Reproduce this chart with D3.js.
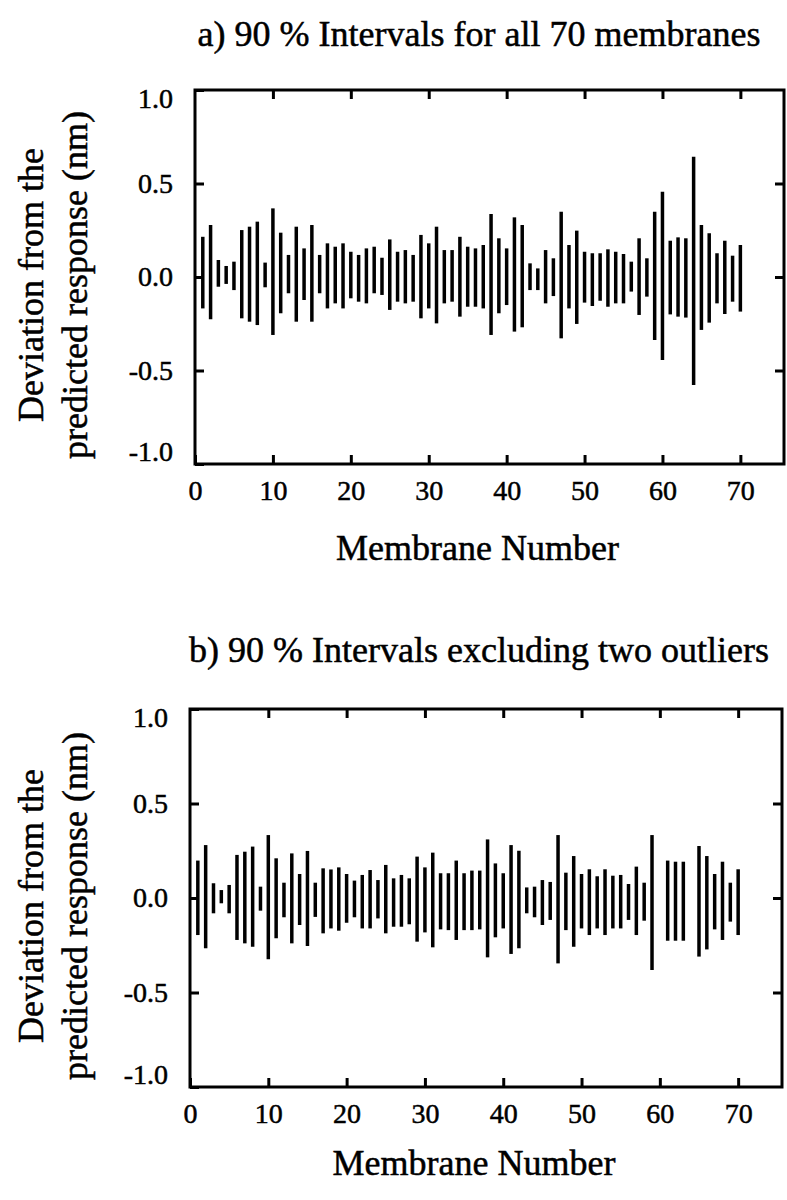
<!DOCTYPE html>
<html>
<head>
<meta charset="utf-8">
<script src="https://cdn.jsdelivr.net/npm/d3@7"></script>
<style>
  html, body { margin: 0; padding: 0; background: #fff; }
  svg { display: block; }
  text { font-family: "Liberation Serif", "Times New Roman", serif; fill: #000; stroke: #000; stroke-width: 0.5px; }
</style>
</head>
<body>
<svg id="chart" width="787" height="1200"></svg>
<script>
// Membrane numbers 1..70
const membranes = d3.range(1, 71);

// Panel a: 90 % interval limits for all 70 membranes (nm)
const upperA = [
  0.215, 0.278, 0.091, 0.059, 0.082, 0.251, 0.269, 0.296, 0.077, 0.367,
  0.237, 0.118, 0.269, 0.153, 0.278, 0.118, 0.180, 0.162, 0.180, 0.135,
  0.118, 0.153, 0.162, 0.103, 0.201, 0.135, 0.144, 0.118, 0.225, 0.180,
  0.269, 0.144, 0.144, 0.215, 0.162, 0.153, 0.171, 0.337, 0.207, 0.153,
  0.319, 0.278, 0.073, 0.046, 0.144, 0.100, 0.349, 0.171, 0.248, 0.135,
  0.127, 0.127, 0.148, 0.135, 0.123, 0.082, 0.207, 0.100, 0.349, 0.456,
  0.194, 0.212, 0.207, 0.643, 0.278, 0.234, 0.127, 0.194, 0.114, 0.171
];
const lowerA = [
  -0.168, -0.226, -0.052, -0.037, -0.070, -0.221, -0.239, -0.257, -0.055, -0.310,
  -0.194, -0.087, -0.239, -0.123, -0.239, -0.087, -0.168, -0.141, -0.168, -0.114,
  -0.132, -0.141, -0.087, -0.096, -0.176, -0.132, -0.141, -0.132, -0.221, -0.168,
  -0.248, -0.141, -0.132, -0.212, -0.159, -0.159, -0.168, -0.310, -0.194, -0.150,
  -0.292, -0.269, -0.070, -0.070, -0.141, -0.102, -0.328, -0.168, -0.251, -0.137,
  -0.155, -0.127, -0.159, -0.141, -0.141, -0.078, -0.203, -0.105, -0.337, -0.444,
  -0.200, -0.212, -0.217, -0.578, -0.283, -0.244, -0.141, -0.198, -0.132, -0.185
];

// Panel b: intervals refitted without membranes 60 and 64 (null = excluded)
const upperB = [
  0.198, 0.280, 0.078, 0.042, 0.069, 0.228, 0.245, 0.272, 0.060, 0.333,
  0.210, 0.081, 0.236, 0.127, 0.249, 0.081, 0.157, 0.151, 0.162, 0.127,
  0.092, 0.122, 0.148, 0.095, 0.175, 0.104, 0.122, 0.104, 0.219, 0.162,
  0.240, 0.131, 0.131, 0.198, 0.131, 0.145, 0.145, 0.310, 0.183, 0.131,
  0.280, 0.250, 0.056, 0.060, 0.095, 0.085, 0.333, 0.134, 0.222, 0.127,
  0.152, 0.115, 0.152, 0.118, 0.122, 0.074, 0.166, 0.081, 0.333, null,
  0.198, 0.192, 0.192, null, 0.275, 0.222, 0.127, 0.192, 0.081, 0.152
];
const lowerB = [
  -0.196, -0.266, -0.081, -0.028, -0.081, -0.222, -0.240, -0.258, -0.067, -0.324,
  -0.213, -0.102, -0.240, -0.143, -0.254, -0.100, -0.187, -0.161, -0.173, -0.131,
  -0.102, -0.161, -0.161, -0.108, -0.187, -0.152, -0.152, -0.139, -0.231, -0.182,
  -0.261, -0.166, -0.170, -0.222, -0.170, -0.170, -0.166, -0.314, -0.208, -0.161,
  -0.296, -0.266, -0.081, -0.102, -0.143, -0.116, -0.346, -0.170, -0.258, -0.161,
  -0.196, -0.161, -0.196, -0.161, -0.161, -0.116, -0.196, -0.120, -0.381, null,
  -0.226, -0.226, -0.226, null, -0.310, -0.272, -0.166, -0.222, -0.125, -0.196
];

// Axis ticks and labels
const xTicks = [0, 10, 20, 30, 40, 50, 60, 70];
const yTicks = [-1.0, -0.5, 0.0, 0.5, 1.0];
const xMax = 75.6;
const titles = [
  "a) 90 % Intervals for all 70 membranes",
  "b) 90 % Intervals excluding two outliers"
];
const yLabelLines = ["Deviation from the", "predicted response (nm)"];
const xLabel = "Membrane Number";

const svg = d3.select("#chart");

function drawPanel(opt) {
  const { left, right, top, bottom, upper, lower, title, titleY, xLabelGap } = opt;

  const x = d3.scaleLinear().domain([0, xMax]).range([left, right]);
  const y = d3.scaleLinear().domain([-1, 1]).range([bottom, top]);

  const g = svg.append("g");

  // title
  g.append("text")
    .attr("x", 479).attr("y", titleY)
    .attr("text-anchor", "middle")
    .style("font-size", "36px")
    .text(title);

  // interval bars
  const rows = membranes
    .map((m, i) => ({ m, hi: upper[i], lo: lower[i] }))
    .filter(d => d.hi != null && d.lo != null);

  g.append("g").selectAll("line")
    .data(rows)
    .join("line")
    .attr("x1", d => x(d.m)).attr("x2", d => x(d.m))
    .attr("y1", d => y(d.lo)).attr("y2", d => y(d.hi))
    .attr("stroke", "#000")
    .attr("stroke-width", 3.5);

  const tickLen = -9;
  const styleAxis = sel => {
    sel.select(".domain").remove();
    sel.selectAll(".tick line").attr("stroke", "#000").attr("stroke-width", 3);
    sel.selectAll(".tick text").style("font-size", "28px");
  };

  // bottom axis with labels
  g.append("g")
    .attr("transform", `translate(0,${bottom})`)
    .call(d3.axisBottom(x).tickValues(xTicks).tickSizeInner(tickLen).tickSizeOuter(0)
      .tickPadding(16).tickFormat(d3.format("d")))
    .call(styleAxis);

  // top axis, ticks only
  g.append("g")
    .attr("transform", `translate(0,${top})`)
    .call(d3.axisTop(x).tickValues(xTicks.slice(1)).tickSizeInner(tickLen).tickSizeOuter(0)
      .tickFormat(""))
    .call(styleAxis);

  // left axis with labels
  const leftAxis = g.append("g")
    .attr("transform", `translate(${left},0)`)
    .call(d3.axisLeft(y).tickValues(yTicks).tickSizeInner(tickLen).tickSizeOuter(0)
      .tickPadding(22).tickFormat(d => d.toFixed(1)))
    .call(styleAxis);
  // keep the end labels inside the frame height
  leftAxis.selectAll(".tick text")
    .attr("dy", d => d === 1 ? "0.62em" : d === -1 ? "-0.12em" : "0.32em");

  // right axis, ticks only
  g.append("g")
    .attr("transform", `translate(${right},0)`)
    .call(d3.axisRight(y).tickValues([-0.5, 0, 0.5]).tickSizeInner(tickLen).tickSizeOuter(0)
      .tickFormat(""))
    .call(styleAxis);

  // frame
  g.append("rect")
    .attr("x", left).attr("y", top)
    .attr("width", right - left).attr("height", bottom - top)
    .attr("fill", "none").attr("stroke", "#000").attr("stroke-width", 3);

  // y axis title (two lines, rotated)
  const cy = (top + bottom) / 2 + 8;
  const ylab = g.append("text")
    .attr("transform", `translate(0,${cy}) rotate(-90)`)
    .attr("text-anchor", "middle")
    .style("font-size", "36px");
  ylab.append("tspan").attr("x", 0).attr("y", 43).text(yLabelLines[0]);
  ylab.append("tspan").attr("x", 0).attr("y", 87).text(yLabelLines[1]);

  // x axis title
  g.append("text")
    .attr("x", (left + right) / 2 - 12).attr("y", bottom + xLabelGap)
    .attr("text-anchor", "middle")
    .style("font-size", "36px")
    .text(xLabel);
}

drawPanel({ left: 195, right: 784, top: 90, bottom: 464,
  upper: upperA, lower: lowerA, title: titles[0], titleY: 46, xLabelGap: 96 });
drawPanel({ left: 190, right: 782, top: 709, bottom: 1087,
  upper: upperB, lower: lowerB, title: titles[1], titleY: 662, xLabelGap: 88 });
</script>
</body>
</html>
